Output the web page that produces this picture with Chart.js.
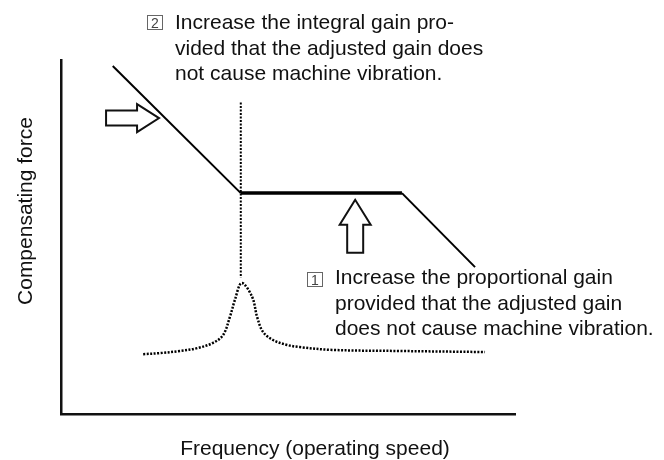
<!DOCTYPE html>
<html>
<head>
<meta charset="utf-8">
<script src="https://cdn.jsdelivr.net/npm/chart.js@4/dist/chart.umd.min.js"></script>
<style>
  html, body { margin: 0; padding: 0; background: #fff; }
  #wrap { position: relative; width: 664px; height: 460px; }
</style>
</head>
<body>
<div id="wrap"><canvas id="chart"></canvas></div>
<script>
// values, in percent of each axis span
const forceFreq = [11.4, 39.6, 75.1, 91.2];
const forceLevel = [98.3, 62.4, 62.4, 41.5];

const vibFreq = [18.1, 21.8, 26.2, 30.0, 33.5, 35.7, 37.2, 38.3, 39.8, 42.1, 43.2, 44.5, 46.7, 49.8, 52.6, 59.7, 74.7, 93.4];
const vibLevel = [16.9, 17.2, 17.8, 18.6, 20.1, 22.3, 27.4, 32.2, 37.0, 33.1, 27.4, 23.2, 20.9, 19.5, 18.9, 18.1, 17.8, 17.5];

const resonanceFreq = [39.6, 39.6];
const resonanceLevel = [88.0, 38.5];

// arrow tips (freq, level)
const rightArrowTip = [21.6, 83.6];
const upArrowTip = [64.8, 60.5];

const xTitle = 'Frequency (operating speed)';
const yTitle = 'Compensating force';
const note2 = ['Increase the integral gain pro-', 'vided that the adjusted gain does', 'not cause machine vibration.'];
const note1 = ['Increase the proportional gain', 'provided that the adjusted gain', 'does not cause machine vibration.'];

const FONT = '"Liberation Sans", Arial, Helvetica, sans-serif';

function toPoints(xs, ys) {
    return xs.map((v, i) => ({ x: v, y: ys[i] }));
}

/** Hollow block arrow, tip at (tx, ty), pointing along angle (radians) */
function drawBlockArrow(ctx, tx, ty, angle, len, headLen, headHalf, bodyHalf) {
    const pts = [
        [0, 0], [-headLen, -headHalf], [-headLen, -bodyHalf], [-len, -bodyHalf],
        [-len, bodyHalf], [-headLen, bodyHalf], [-headLen, headHalf]
    ];
    ctx.save();
    ctx.translate(tx, ty);
    ctx.rotate(angle);
    ctx.beginPath();
    pts.forEach(([px, py], i) => i ? ctx.lineTo(px, py) : ctx.moveTo(px, py));
    ctx.closePath();
    ctx.fillStyle = '#fff';
    ctx.fill();
    ctx.lineWidth = 2;
    ctx.lineJoin = 'miter';
    ctx.strokeStyle = '#111';
    ctx.stroke();
    ctx.restore();
}

function drawNote(ctx, num, boxX, boxY, textX, baseY, lines) {
    ctx.save();
    ctx.strokeStyle = '#666';
    ctx.lineWidth = 1;
    ctx.strokeRect(boxX + 0.5, boxY + 0.5, 15, 14);
    ctx.fillStyle = '#444';
    ctx.font = '14px ' + FONT;
    ctx.textAlign = 'center';
    ctx.textBaseline = 'alphabetic';
    ctx.fillText(num, boxX + 8, boxY + 13);
    ctx.fillStyle = '#111';
    ctx.font = '21px ' + FONT;
    ctx.textAlign = 'left';
    lines.forEach((t, i) => ctx.fillText(t, textX, baseY + i * 25.5));
    ctx.restore();
}

const annotations = {
    id: 'annotations',
    afterDatasetsDraw(chart) {
        const { ctx, scales: { x, y } } = chart;

        drawBlockArrow(ctx, x.getPixelForValue(rightArrowTip[0]), y.getPixelForValue(rightArrowTip[1]),
            0, 53, 22, 14, 7.5);
        drawBlockArrow(ctx, x.getPixelForValue(upArrowTip[0]), y.getPixelForValue(upArrowTip[1]),
            -Math.PI / 2, 53, 25, 15.5, 8);

        drawNote(ctx, '2', 147, 15, 175, 29, note2);
        drawNote(ctx, '1', 307, 272, 335, 284, note1);

        ctx.save();
        ctx.fillStyle = '#111';
        ctx.font = '21px ' + FONT;
        ctx.textAlign = 'center';
        ctx.textBaseline = 'alphabetic';
        ctx.fillText(xTitle, 315, 455);
        ctx.translate(32, 211);
        ctx.rotate(-Math.PI / 2);
        ctx.fillText(yTitle, 0, 0);
        ctx.restore();
    }
};

const ctx = document.getElementById('chart');
new Chart(ctx, {
    type: 'line',
    data: {
        datasets: [
            {
                data: toPoints(forceFreq, forceLevel),
                borderColor: '#000',
                borderWidth: 2,
                pointRadius: 0,
                tension: 0,
                segment: {
                    borderWidth: c => c.p0.parsed.y === c.p1.parsed.y ? 3.5 : 2
                }
            },
            {
                data: toPoints(resonanceFreq, resonanceLevel),
                borderColor: '#000',
                borderWidth: 2,
                borderDash: [2, 1.5],
                pointRadius: 0
            },
            {
                data: toPoints(vibFreq, vibLevel),
                borderColor: '#000',
                borderWidth: 2.5,
                borderDash: [2, 1.5],
                pointRadius: 0,
                tension: 0.35
            }
        ]
    },
    options: {
        responsive: true,
        maintainAspectRatio: false,
        animation: false,
        layout: { padding: { left: 61, top: 60, right: 149, bottom: 46 } },
        plugins: { legend: { display: false }, tooltip: { enabled: false } },
        scales: {
            x: {
                type: 'linear', min: 0, max: 100,
                ticks: { display: false },
                grid: { display: false, drawTicks: false },
                border: { display: true, color: '#111', width: 2.5 }
            },
            y: {
                type: 'linear', min: 0, max: 100,
                ticks: { display: false },
                grid: { display: false, drawTicks: false },
                border: { display: true, color: '#111', width: 2.5 }
            }
        }
    },
    plugins: [annotations]
});
</script>
</body>
</html>
